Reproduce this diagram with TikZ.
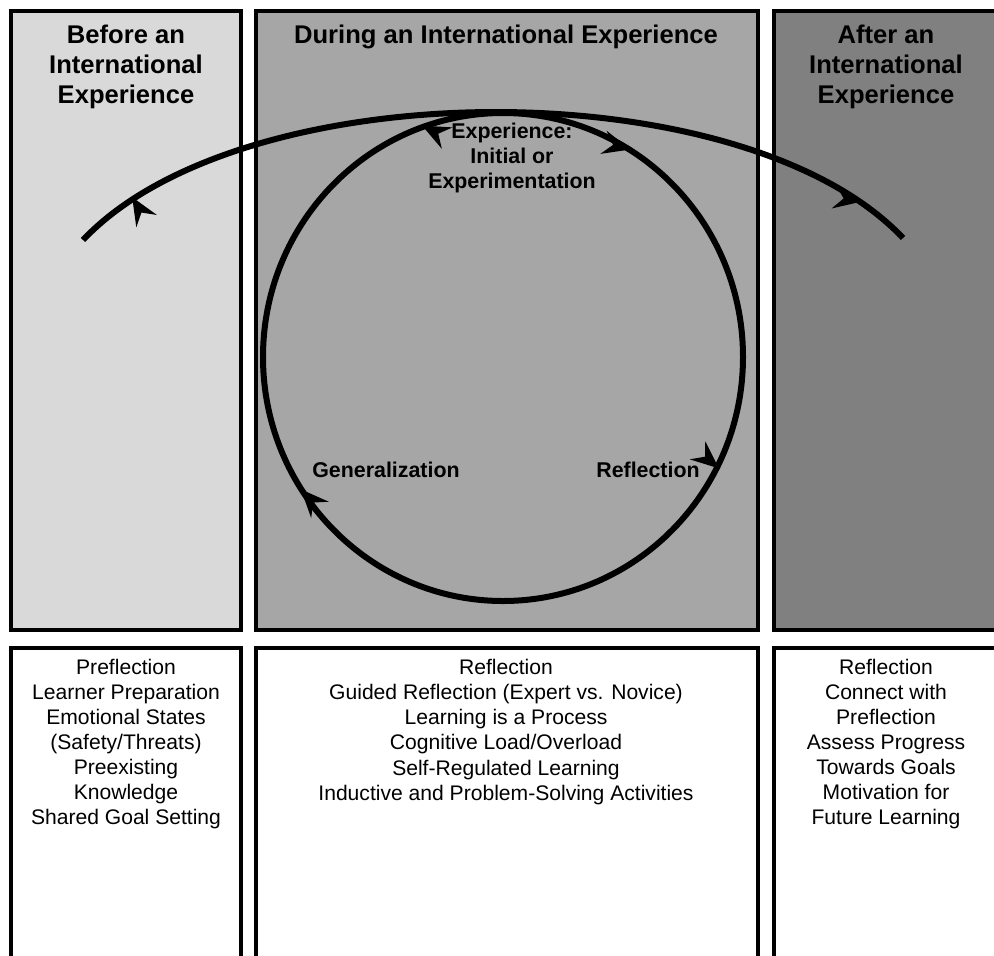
\documentclass[tikz,border=0pt]{standalone}
\usepackage{fontspec}
\setmainfont{Liberation Sans}
\usetikzlibrary{decorations.markings}

\definecolor{before}{RGB}{217,217,217}
\definecolor{during}{RGB}{166,166,166}
\definecolor{after}{RGB}{128,128,128}

\tikzset{
  column/.style={line width=0.1cm},
  arcline/.style={line width=0.15cm, postaction={decorate}},
  title/.style={align=center, font=\fontsize{18.2}{21.3}\selectfont\bfseries},
  stage/.style={align=center, font=\fontsize{15.2}{17.8}\selectfont\bfseries},
  notes/.style={align=center, font=\fontsize{15}{17.8}\selectfont},
}
\newcommand{\tip}[1]{\fill[rotate=#1] (2,0) -- (-26,12) -- (-16,0) -- (-26,-12) -- cycle;}

\begin{document}
\begin{tikzpicture}[x=0.025cm,y=0.025cm]
\useasboundingbox (0,0) rectangle (994,-955);
\clip (0,0) rectangle (994,-955);
\fill[white] (0,0) rectangle (994,-955);

%top columns
\draw[column, fill=before] (11,-11) rectangle (241,-630);
\draw[column, fill=during] (256,-11) rectangle (758,-630);
\draw[column, fill=after] (774,-11) rectangle (999,-630);

%bottom columns
\draw[column] (11,-648) rectangle (241,-990);
\draw[column] (256,-648) rectangle (758,-990);
\draw[column] (774,-648) rectangle (999,-990);

%titles
\node[title] (before) at (126,-67) {Before an\\International\\Experience};
\node[title] (during) at (506,-37) {During an International Experience};
\node[title] (after) at (886,-67) {After an\\International\\Experience};

%arc across the columns
\coordinate (arcstart) at (83,-240);
\coordinate (arcend) at (903,-238);
\draw[arcline, decoration={markings,
    mark=at position 0.074 with {\tip{88}},
    mark=at position 0.935 with {\tip{24}}}]
  (arcstart) .. controls (243,-70.7) and (743,-68.7) .. (arcend);

%learning cycle
\draw[arcline, decoration={markings,
    mark=at position 0.087 with {\tip{17}},
    mark=at position 0.325 with {\tip{76}},
    mark=at position 0.657 with {\tip{10}},
    mark=at position 0.947 with {\tip{134}}}]
  (503,-113) arc[start angle=90, end angle=-270, x radius=240, y radius=244];

%stages
\node[stage] (experience) at (512,-158) {Experience:\\Initial or\\Experimentation};
\node[stage] (generalization) at (386,-470) {Generalization};
\node[stage] (reflection) at (648,-470) {Reflection};

%notes
\node[notes] (prenotes) at (126,-744) {Preflection\\Learner Preparation\\Emotional States\\(Safety/Threats)\\Preexisting\\Knowledge\\Shared Goal Setting};
\node[notes] (duringnotes) at (506,-732) {Reflection\\Guided Reflection (Expert vs. Novice)\\Learning is a Process\\Cognitive Load/Overload\\Self-Regulated Learning\\Inductive and Problem-Solving Activities};
\node[notes] (postnotes) at (886,-744) {Reflection\\Connect with\\Preflection\\Assess Progress\\Towards Goals\\Motivation for\\Future Learning};
\end{tikzpicture}
\end{document}
